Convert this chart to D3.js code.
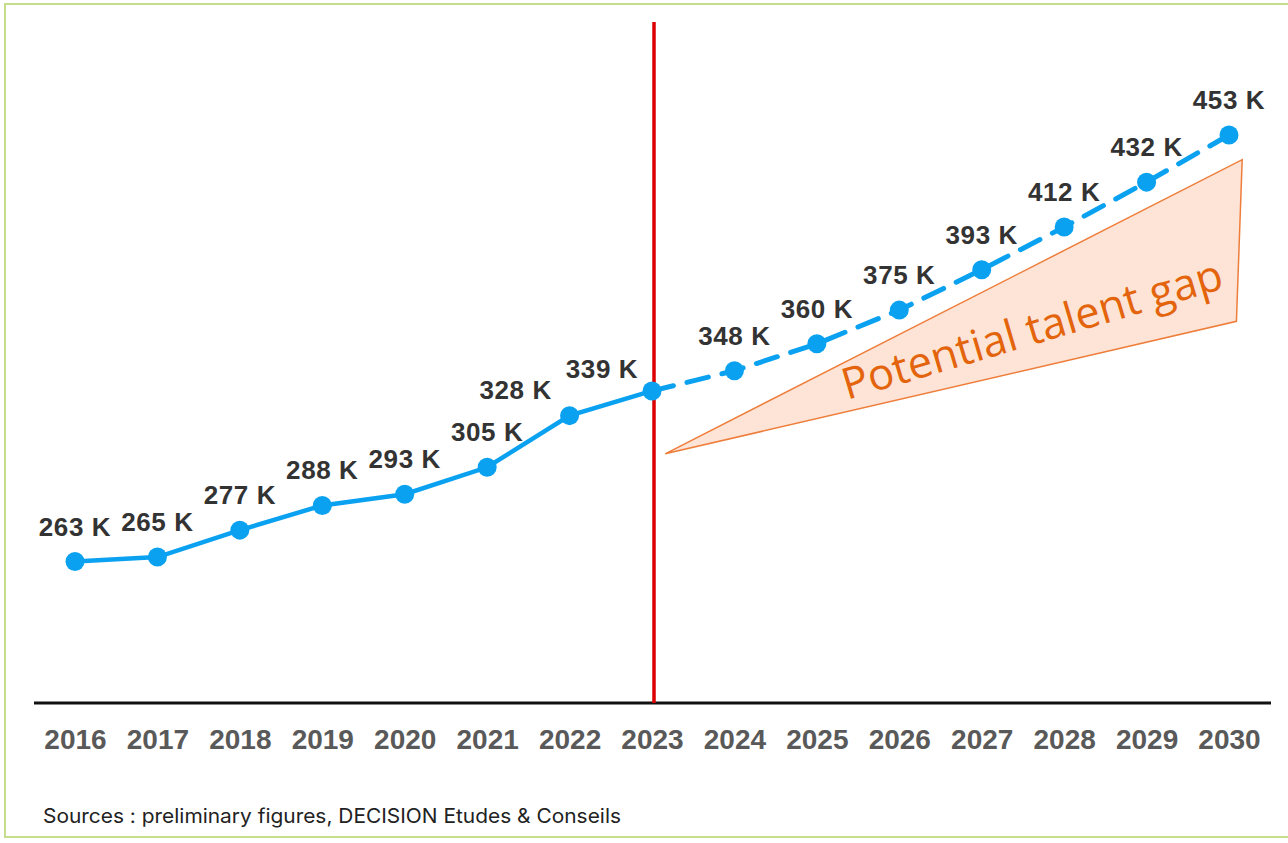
<!DOCTYPE html>
<html>
<head>
<meta charset="utf-8">
<script src="https://cdn.jsdelivr.net/npm/d3@7"></script>
<style>
  body { margin: 0; background: #fff; }
  svg { display: block; }
</style>
</head>
<body>
<div id="vis"></div>
<script>
const FRAME_WIDTH = 1288;
const FRAME_HEIGHT = 843;

// data
const years = [2016, 2017, 2018, 2019, 2020, 2021, 2022, 2023, 2024, 2025, 2026, 2027, 2028, 2029, 2030];
const values = [263, 265, 277, 288, 293, 305, 328, 339, 348, 360, 375, 393, 412, 432, 453];
const lastActualYear = 2023;
// talent gap wedge, in (year, value) units
const gapYears = [2023.16, 2030.16, 2030.09];
const gapValues = [311, 442, 370];
const sourceText = "Sources : preliminary figures, DECISION Etudes & Conseils";

const BLUE = "#0aa2f0";

const svg = d3.select("#vis")
  .append("svg")
    .attr("width", FRAME_WIDTH)
    .attr("height", FRAME_HEIGHT);

// green frame
svg.append("rect")
  .attr("x", 5).attr("y", 4)
  .attr("width", 1300).attr("height", 833)
  .attr("fill", "none")
  .attr("stroke", "#c6de8c")
  .attr("stroke-width", 2);

const x_scale = d3.scaleLinear()
  .domain([2016, 2030])
  .range([75, 1229]);

const y_scale = d3.scaleLinear()
  .domain([200, 453])
  .range([703, 135]);

// x axis
const xAxis = svg.append("g")
  .attr("transform", "translate(0,703)")
  .call(d3.axisBottom(x_scale).tickValues(years).tickFormat(d3.format("d")).tickSize(0).tickPadding(26));
xAxis.select(".domain").remove();
xAxis.append("line")
  .attr("x1", 34).attr("x2", 1271)
  .attr("stroke", "#111").attr("stroke-width", 3);
xAxis.selectAll("text")
  .attr("font-family", "'Liberation Sans', Arial, sans-serif")
  .attr("font-weight", "bold")
  .attr("font-size", 28)
  .attr("fill", "#595959");

// talent gap wedge
const gapPts = gapYears.map((g, i) => [x_scale(g), y_scale(gapValues[i])]);
svg.append("polygon")
  .attr("points", gapPts.map(p => p.join(",")).join(" "))
  .attr("fill", "#fde4d6")
  .attr("stroke", "#ee7d3a")
  .attr("stroke-width", 1.5);

svg.append("text")
  .attr("transform", "translate(847,400) rotate(-16.5)")
  .attr("font-family", "'Open Sans', 'Noto Sans', sans-serif")
  .attr("font-size", 43.5)
  .attr("fill", "#e3640c")
  .text("Potential talent gap");

// red divider
svg.append("line")
  .attr("x1", x_scale(lastActualYear) + 2).attr("x2", x_scale(lastActualYear) + 2)
  .attr("y1", 22).attr("y2", 703)
  .attr("stroke", "#dd0000")
  .attr("stroke-width", 3.5);

const data = years.map((y, i) => ({year: y, value: values[i]}));
const line = d3.line()
  .x(d => x_scale(d.year))
  .y(d => y_scale(d.value));

svg.append("path")
  .datum(data.filter(d => d.year <= lastActualYear))
  .attr("d", line)
  .attr("fill", "none")
  .attr("stroke", BLUE)
  .attr("stroke-width", 4.5);

svg.append("path")
  .datum(data.filter(d => d.year >= lastActualYear))
  .attr("d", line)
  .attr("fill", "none")
  .attr("stroke", BLUE)
  .attr("stroke-width", 5)
  .attr("stroke-dasharray", "22,14")
  .attr("stroke-linecap", "round");

svg.selectAll(".dot")
  .data(data)
  .join("circle")
    .attr("class", "dot")
    .attr("cx", d => x_scale(d.year))
    .attr("cy", d => y_scale(d.value))
    .attr("r", 9.5)
    .attr("fill", BLUE);

// value labels (the two around the divider sit left of their point)
const labelShift = {2022: [-54, 9], 2023: [-50, 13]};
svg.selectAll(".lbl")
  .data(data)
  .join("text")
    .attr("class", "lbl")
    .attr("x", d => x_scale(d.year) + (labelShift[d.year] ? labelShift[d.year][0] : 0))
    .attr("y", d => y_scale(d.value) - 26 + (labelShift[d.year] ? labelShift[d.year][1] : 0))
    .attr("text-anchor", "middle")
    .attr("font-family", "'Liberation Sans', Arial, sans-serif")
    .attr("font-weight", "bold")
    .attr("font-size", 26)
    .attr("letter-spacing", 0.6)
    .attr("fill", "#333")
    .text(d => d.value + " K");

svg.append("text")
  .attr("x", 43).attr("y", 823)
  .attr("font-family", "Inter, 'Noto Sans', sans-serif")
  .attr("font-size", 20)
  .attr("textLength", 578)
  .attr("lengthAdjust", "spacingAndGlyphs")
  .attr("fill", "#222")
  .text(sourceText);
</script>
</body>
</html>
